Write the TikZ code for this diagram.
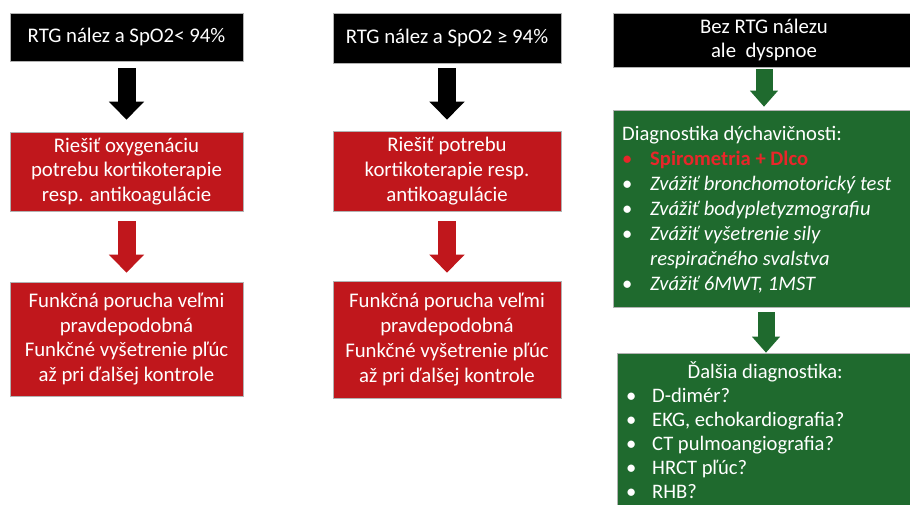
\documentclass[tikz,border=0pt]{standalone}
\usepackage{fontspec}
\setmainfont{Carlito}
\usetikzlibrary{arrows.meta}
\definecolor{boxred}{HTML}{C0171C}
\definecolor{boxgreen}{HTML}{1F6A2E}
\definecolor{hired}{HTML}{E8262A}
\begin{document}
\begin{tikzpicture}[x=1pt,y=-1pt,
  box/.style={rectangle, inner sep=0pt, text=white, align=center,
    font=\fontsize{20.8}{24.8}\selectfont, draw=gray!60, line width=0.6pt},
  blackbox/.style={box, fill=black},
  redbox/.style={box, fill=boxred},
  greenbox/.style={box, fill=boxgreen},
  listtext/.style={inner sep=0pt, text=white, align=left, anchor=north west,
    font=\fontsize{20.6}{25}\selectfont},
  bigarrow/.style={line width=18pt, -{Triangle[width=34pt,length=18pt]}},
  smallarrow/.style={line width=17pt, -{Triangle[width=27pt,length=16pt]}}
]
\useasboundingbox (0,0) rectangle (910,504);
\fill[white] (0,0) rectangle (910,504);

% column 1
\node[blackbox, minimum width=233pt, minimum height=48pt] (a1) at (126.5,37) {RTG nález a SpO2< 94\%};
\node[redbox, minimum width=233pt, minimum height=79pt] (b1) at (126.5,171.5) {Riešiť oxygenáciu\\potrebu kortikoterapie\\resp. antikoagulácie};
\node[redbox, minimum width=233pt, minimum height=114pt] (c1) at (126.5,339) {Funkčná porucha veľmi\\pravdepodobná\\Funkčné vyšetrenie pľúc\\až pri ďalšej kontrole};

% column 2
\node[blackbox, minimum width=228pt, minimum height=50pt] (a2) at (447,38) {RTG nález a SpO2 ≥ 94\%};
\node[redbox, minimum width=228pt, minimum height=80pt] (b2) at (447,171) {Riešiť potrebu\\kortikoterapie resp.\\antikoagulácie};
\node[redbox, minimum width=228pt, minimum height=117pt] (c2) at (447,339.5) {Funkčná porucha veľmi\\pravdepodobná\\Funkčné vyšetrenie pľúc\\až pri ďalšej kontrole};

% column 3
\node[blackbox, minimum width=302pt, minimum height=54pt] (a3) at (764,40) {Bez RTG nálezu\\ale~ dyspnoe};
\node[greenbox, minimum width=302pt, minimum height=197pt] (g1) at (764,208.5) {};
\node[greenbox, minimum width=298pt, minimum height=160pt] (g2) at (766,433) {};

\node[listtext] (g1t) at (622,126) {Diagnostika dýchavičnosti:\\
  {\color{hired}\makebox[28pt][l]{•}\textbf{Spirometria + Dlco}}\\
  \makebox[28pt][l]{•}\textit{Zvážiť bronchomotorický test}\\
  \makebox[28pt][l]{•}\textit{Zvážiť bodypletyzmografiu}\\
  \makebox[28pt][l]{•}\textit{Zvážiť vyšetrenie sily}\\
  \hspace*{28pt}\textit{respiračného svalstva}\\
  \makebox[28pt][l]{•}\textit{Zvážiť 6MWT, 1MST}};
\node[listtext, font=\fontsize{20.6}{24}\selectfont] (g2t) at (626,361) {\makebox[278pt][c]{Ďalšia diagnostika:}\\
  \makebox[26pt][l]{•}D-dimér?\\
  \makebox[26pt][l]{•}EKG, echokardiografia?\\
  \makebox[26pt][l]{•}CT pulmoangiografia?\\
  \makebox[26pt][l]{•}HRCT pľúc?\\
  \makebox[26pt][l]{•}RHB?};

% arrows
\draw[bigarrow, black] (a1) -- (b1) [shorten <=7pt, shorten >=12pt];
\draw[bigarrow, boxred] (b1) -- (c1) [shorten <=10pt, shorten >=9pt];
\draw[bigarrow, black] (a2) -- (b2) [shorten <=5pt, shorten >=11pt];
\draw[bigarrow, boxred] (b2) -- (c2) [shorten <=10pt, shorten >=8pt];
\draw[smallarrow, boxgreen] (a3.south) -- (g1.north) [shorten <=2pt, shorten >=3pt];
\draw[smallarrow, boxgreen] (g1.south -| 766,0) -- (g2.north) [shorten <=5pt, shorten >=0pt];
\end{tikzpicture}
\end{document}
